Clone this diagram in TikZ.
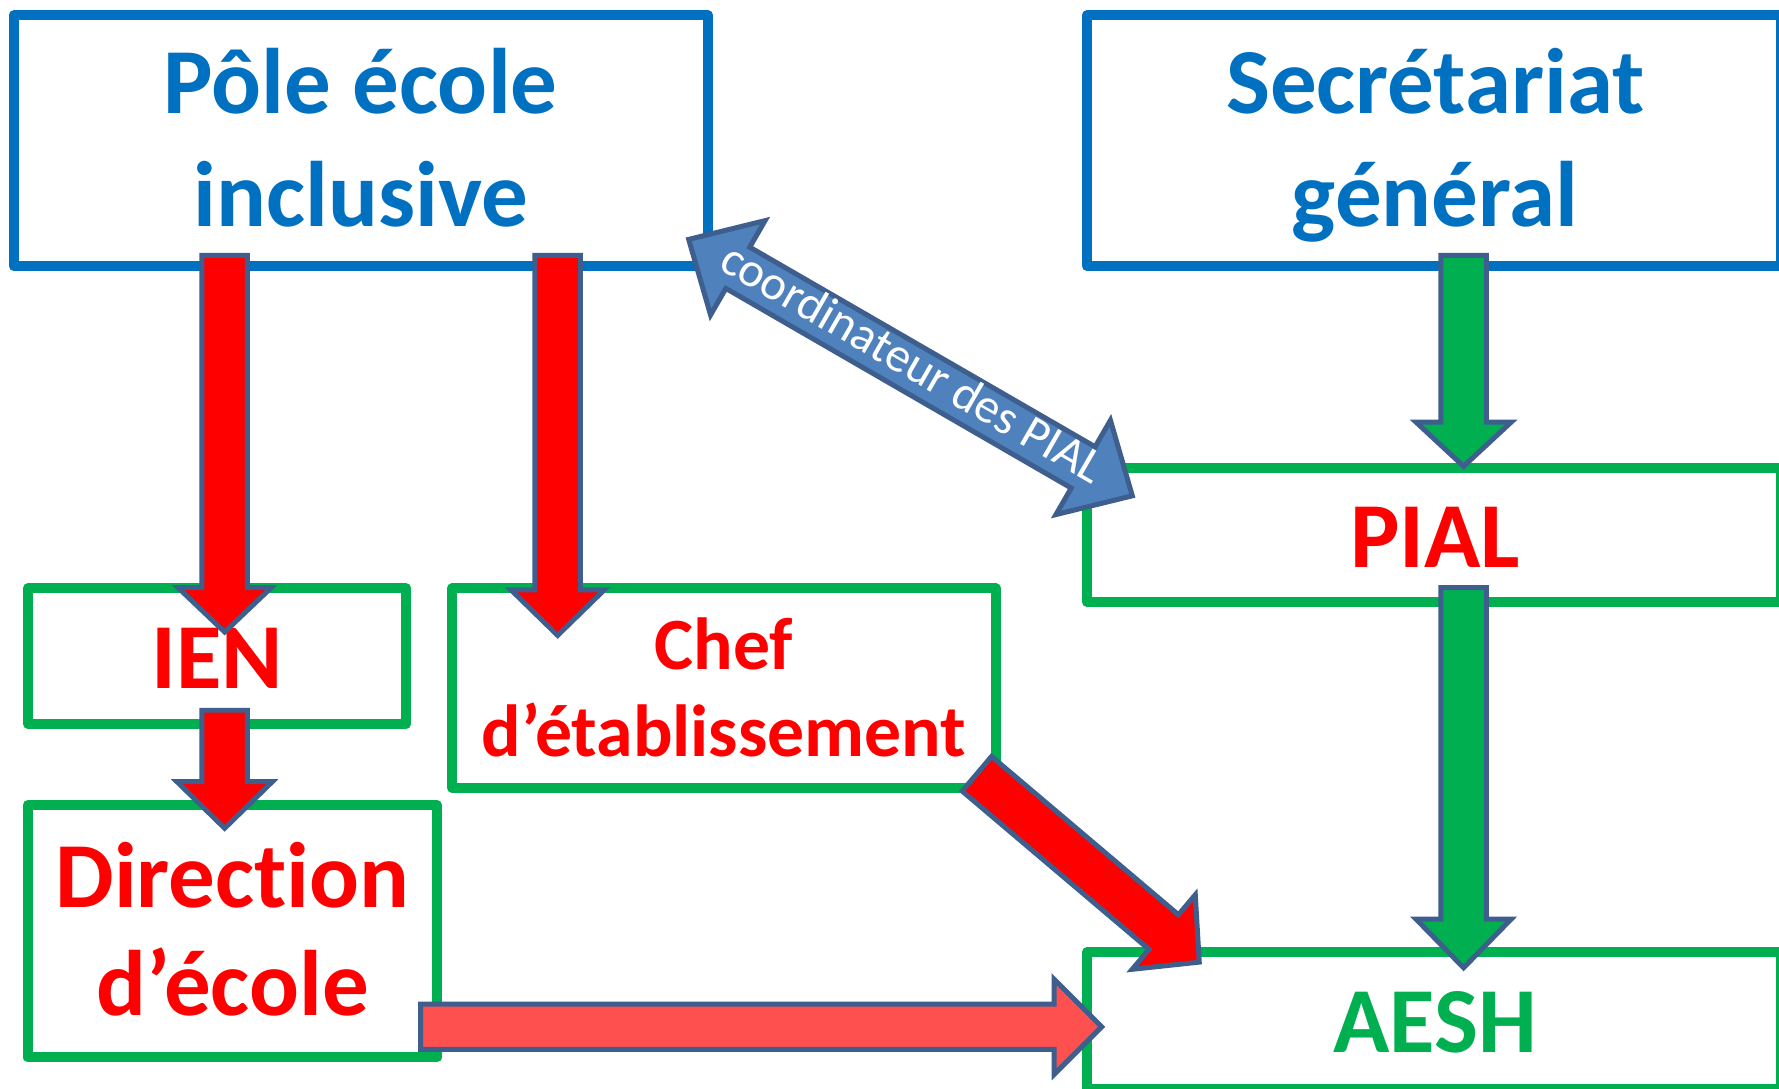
\documentclass[tikz,border=0pt]{standalone}
\usepackage{fontspec}
\setmainfont{Carlito}[Ligatures={NoCommon,NoContextual}]
\usetikzlibrary{calc}
\definecolor{boxblue}{HTML}{0070C0}
\definecolor{boxgreen}{HTML}{00B050}
\definecolor{txtred}{HTML}{FF0000}
\definecolor{arrline}{HTML}{3E5F8E}
\definecolor{arrblue}{HTML}{4F81BD}
\definecolor{lightred}{HTML}{FF5050}
\newcommand\myblockarrow[6]{%
  \coordinate (ba) at (#2); \coordinate (bt) at (#3);
  \coordinate (bh) at ($(bt)!#6!(ba)$);
  \draw[#1] ($(ba)!#4!90:(bt)$) -- ($(bh)!#4!90:(bt)$) -- ($(bh)!#5!90:(bt)$) -- (bt)
    -- ($(bh)!#5!-90:(bt)$) -- ($(bh)!#4!-90:(bt)$) -- ($(ba)!#4!-90:(bt)$) -- cycle;
}
\newcommand\mydoublearrow[6]{%
  \coordinate (da) at (#2); \coordinate (db) at (#3);
  \coordinate (dh1) at ($(da)!#6!(db)$);
  \coordinate (dh2) at ($(db)!#6!(da)$);
  \draw[#1] (da) -- ($(dh1)!#5!90:(db)$) -- ($(dh1)!#4!90:(db)$) -- ($(dh2)!#4!90:(db)$)
    -- ($(dh2)!#5!90:(db)$) -- (db) -- ($(dh2)!#5!-90:(db)$) -- ($(dh2)!#4!-90:(db)$)
    -- ($(dh1)!#4!-90:(db)$) -- ($(dh1)!#5!-90:(db)$) -- cycle;
}
\tikzset{
  frame/.style={draw=#1, line width=8.8pt, rectangle, inner sep=0pt, line join=round},
  bigtxt/.style={anchor=base, font=\bfseries\fontsize{82}{98}\selectfont, text=#1, inner sep=0pt},
  midtxt/.style={anchor=base, font=\bfseries\fontsize{65}{78}\selectfont, text=#1, inner sep=0pt},
  arrbase/.style={draw=arrline, line width=4.4pt, line join=miter},
  redarrow/.style={arrbase, fill=txtred},
  greenarrow/.style={arrbase, fill=boxgreen},
  salmonarrow/.style={arrbase, fill=lightred},
  bluearrow/.style={arrbase, fill=arrblue},
}
\begin{document}
\begin{tikzpicture}[x=1pt, y=-1pt]
\useasboundingbox (0,0) rectangle (1568,959);
\clip (0,0) rectangle (1568,959);
\fill[white] (0,0) rectangle (1568,959);
% boxes
\node[frame=boxblue, minimum width=612pt, minimum height=221pt] (pole) at (318,124) {};
\node[frame=boxblue, minimum width=612pt, minimum height=221pt] (secr) at (1264,124) {};
\node[frame=boxgreen, minimum width=612pt, minimum height=118pt] (pial) at (1264,471.5) {};
\node[frame=boxgreen, minimum width=612pt, minimum height=120pt] (aesh) at (1264,899.4) {};
\node[frame=boxgreen, minimum width=333.5pt, minimum height=119.5pt] (ien) at (191.25,578.25) {};
\node[frame=boxgreen, minimum width=479pt, minimum height=176pt] (chef) at (638.1,606.5) {};
\node[frame=boxgreen, minimum width=360.5pt, minimum height=222.5pt] (dir) at (204.75,820.75) {};
% texts
\node[bigtxt=boxblue] (pole1) at (318,100) {Pôle école};
\node[bigtxt=boxblue] (pole2) at (318,200) {inclusive};
\node[bigtxt=boxblue] (secr1) at (1265,100) {Secrétariat};
\node[bigtxt=boxblue] (secr2) at (1265,200) {général};
\node[bigtxt=txtred] (pialt) at (1265,500) {PIAL};
\node[bigtxt=txtred] (ient) at (191.5,607) {IEN};
\node[midtxt=txtred] (chef1) at (638,590) {Chef};
\node[midtxt=txtred] (chef2) at (638,667) {d’établissement};
\node[bigtxt=txtred] (dir1) at (205,800) {Direction};
\node[bigtxt=txtred] (dir2) at (205,895) {d’école};
\node[bigtxt=boxgreen] (aesht) at (1265,928) {AESH};
% arrow end points
\coordinate (a1s) at (198,225);  \coordinate (a1t) at (198,557);
\coordinate (a2s) at (491.5,225); \coordinate (a2t) at (491.5,560);
\coordinate (a3s) at (198,626);  \coordinate (a3t) at (198,730);
\coordinate (a4s) at (1290,225); \coordinate (a4t) at (1290,411);
\coordinate (a5s) at (1290,518); \coordinate (a5t) at (1290,853);
\coordinate (a6s) at (861,682);  \coordinate (a6t) at (1057,848);
\coordinate (a7s) at (370.7,905);  \coordinate (a7t) at (971,905);
\coordinate (d1) at (607,211);   \coordinate (d2) at (998,437);
% arrows
\myblockarrow{redarrow}{a1s}{a1t}{20pt}{41pt}{39pt}
\myblockarrow{redarrow}{a2s}{a2t}{20pt}{41pt}{40pt}
\myblockarrow{redarrow}{a3s}{a3t}{20pt}{42pt}{41pt}
\myblockarrow{greenarrow}{a4s}{a4t}{20pt}{42pt}{39pt}
\myblockarrow{greenarrow}{a5s}{a5t}{20pt}{42pt}{43pt}
\myblockarrow{redarrow}{a6s}{a6t}{20pt}{43pt}{41pt}
\myblockarrow{salmonarrow}{a7s}{a7t}{20pt}{42pt}{42pt}
\mydoublearrow{bluearrow}{d1}{d2}{21pt}{48pt}{50pt}
\node[rotate=-30, anchor=base, text=white, inner sep=0pt, font=\fontsize{43}{50}\selectfont] (coord) at (797.5,332.2) {coordinateur des PIAL};
\end{tikzpicture}
\end{document}
